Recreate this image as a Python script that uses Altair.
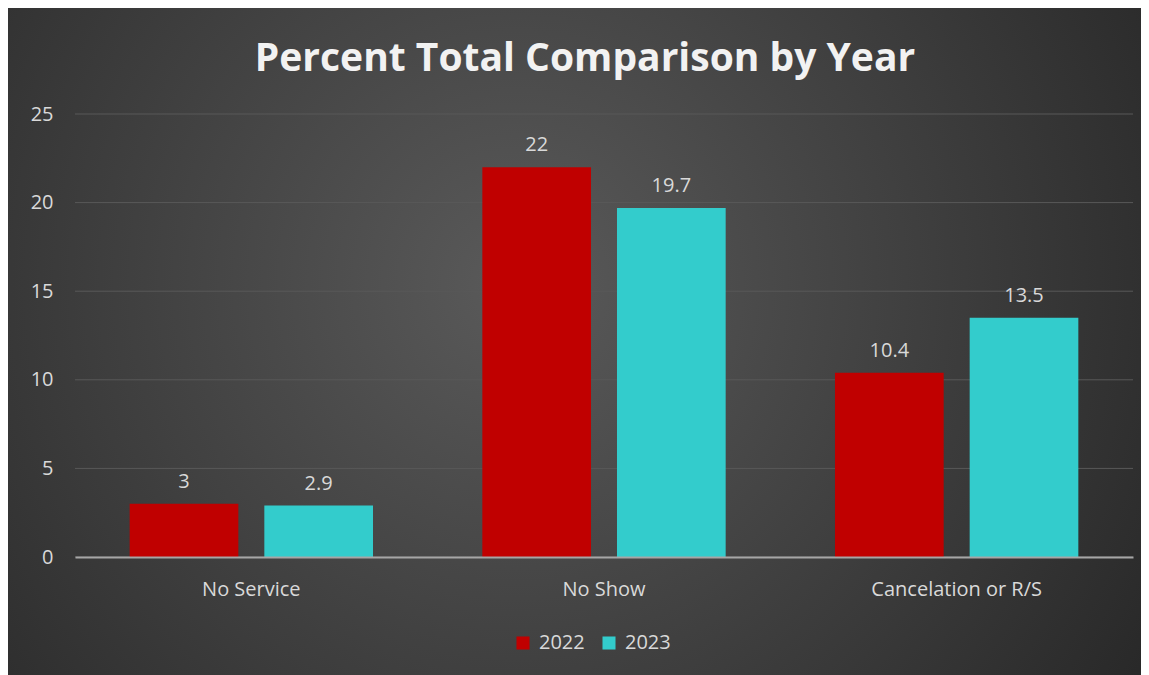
import altair as alt
import pandas as pd

categories = ["No Service", "No Show", "Cancelation or R/S"]
years = ["2022", "2023"]
values_2022 = [3, 22, 10.4]
values_2023 = [2.9, 19.7, 13.5]
y_ticks = [0, 5, 10, 15, 20, 25]
colors = ["#C00000", "#33CCCC"]

rows = []
for c, v in zip(categories, values_2022):
    rows.append({"category": c, "year": "2022", "value": v})
for c, v in zip(categories, values_2023):
    rows.append({"category": c, "year": "2023", "value": v})
df = pd.DataFrame(rows)
grid_df = pd.DataFrame({"value": y_ticks})
bg_df = pd.DataFrame({"bg": [0]})

W, H = 1058, 443
PL, PT, PR, PB = 67, 106, 8, 118

font = "Open Sans"
label_color = "#d9d9d9"

x_axis = alt.Axis(title=None, labelAngle=0, labelFont=font, labelFontSize=20,
                  labelColor=label_color, labelPadding=22, ticks=False, tickSize=0,
                  domain=True, domainColor="#a6a6a6", domainWidth=2, zindex=1)
y_axis = alt.Axis(title=None, values=y_ticks, grid=False, ticks=False, tickSize=0,
                  domain=False, labelFont=font, labelFontSize=20, labelColor=label_color,
                  labelPadding=22, zindex=1)
x_enc = alt.X("category:N", sort=categories,
              scale=alt.Scale(paddingInner=0.31, paddingOuter=0.155), axis=x_axis)
xoff = alt.XOffset("year:N", sort=years, scale=alt.Scale(paddingInner=0.193, paddingOuter=0))
y_scale = alt.Scale(domain=[0, 25], nice=False)
y_enc = alt.Y("value:Q", scale=y_scale, axis=y_axis)

bg = alt.Chart(bg_df).mark_rect(
    clip=False,
    fill={"gradient": "radial", "x1": 0.45, "y1": 0.45, "x2": 0.45, "y2": 0.45,
          "r1": 0, "r2": 0.75,
          "stops": [{"offset": 0, "color": "#5a5a5a"}, {"offset": 1, "color": "#212121"}]},
).encode(x=alt.value(-PL), x2=alt.value(W + PR), y=alt.value(-PT), y2=alt.value(H + PB))

grid = alt.Chart(grid_df).mark_rule(color="#595959", strokeWidth=1).encode(y=y_enc)

bars = alt.Chart(df).mark_bar().encode(
    x=x_enc,
    xOffset=xoff,
    y=y_enc,
    color=alt.Color("year:N", sort=years, scale=alt.Scale(domain=years, range=colors),
                    legend=alt.Legend(title=None, orient="none", legendX=438, legendY=519,
                                      direction="horizontal", symbolType="square",
                                      symbolSize=170, symbolStrokeWidth=0,
                                      labelFont=font, labelFontSize=20, labelColor=label_color,
                                      columnPadding=14, labelOffset=6)),
)

labels = alt.Chart(df).mark_text(baseline="bottom", dy=-12, font=font, fontSize=20,
                                 color=label_color).encode(
    x=x_enc,
    xOffset=xoff,
    y=y_enc,
    text=alt.Text("value:Q", format=".3~g"),
)

chart = alt.layer(bg, grid, bars, labels).properties(
    width=W, height=H,
    autosize=alt.AutoSizeParams(type="none"),
    padding={"left": PL, "top": PT, "right": PR, "bottom": PB},
    background="#2b2b2b",
    title=alt.Title("Percent Total Comparison by Year", font=font, fontSize=39,
                    fontWeight="bold", color="#f2f2f2", anchor="middle", dx=-19,
                    offset=0, baseline="bottom", dy=110),
).configure_view(stroke=None)

chart.save("out.html", embed_options={"renderer": "svg", "actions": False})
